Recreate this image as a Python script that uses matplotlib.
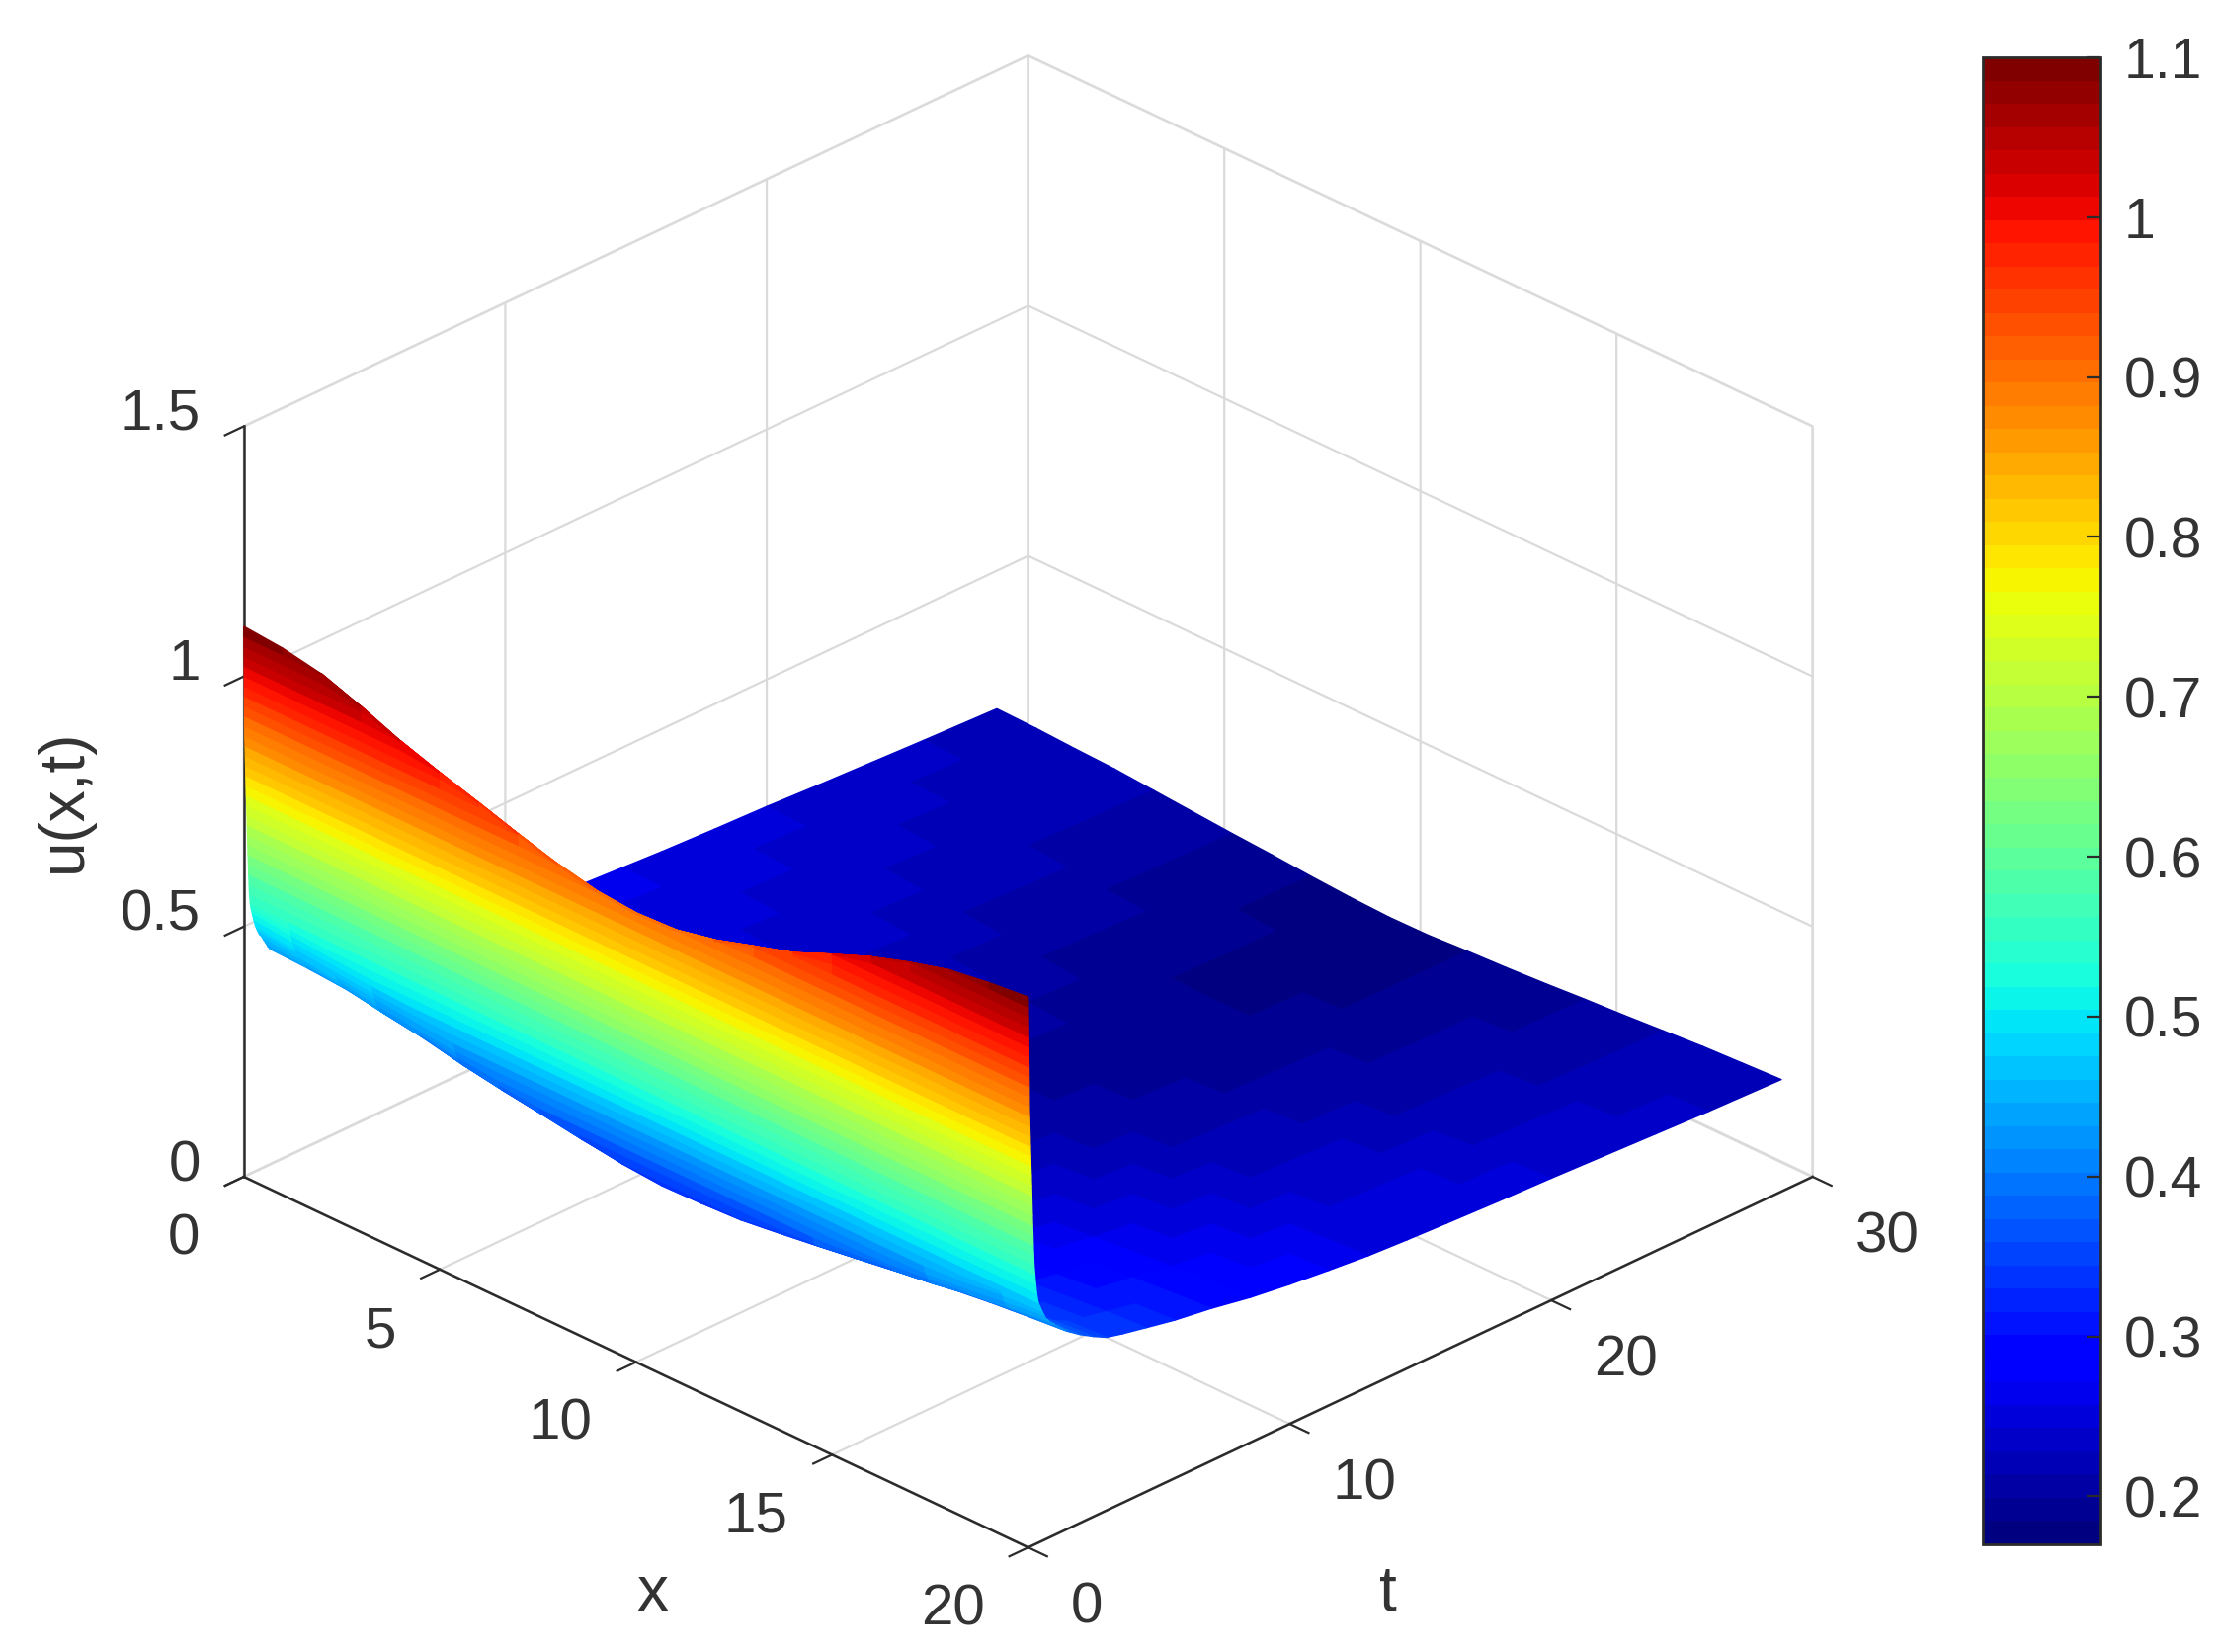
import numpy as np
import matplotlib
matplotlib.use('Agg')
import matplotlib.pyplot as plt
from matplotlib.colors import Normalize
from matplotlib.cm import ScalarMappable

plt.rcParams['font.family'] = ['Liberation Sans', 'DejaVu Sans']

# values
x_nodes = list(range(0, 21))

# steep start at t~0, top of the wall
t_upper = [0, 0.004, 0.008, 0.012, 0.016, 0.02, 0.024, 0.028, 0.032, 0.036, 0.038]
u_upper = [
    [1.10, 1.093, 1.078, 1.05, 1.018, 0.992, 0.968, 0.943, 0.92, 0.903, 0.896, 0.90, 0.917, 0.942, 0.966, 1.0, 1.032, 1.058, 1.08, 1.092, 1.10],
    [1.08, 1.08, 1.078, 1.05, 1.018, 0.992, 0.968, 0.943, 0.92, 0.903, 0.896, 0.90, 0.917, 0.942, 0.966, 1.0, 1.032, 1.058, 1.08, 1.08, 1.08],
    [1.06, 1.06, 1.06, 1.05, 1.018, 0.992, 0.968, 0.943, 0.92, 0.903, 0.896, 0.90, 0.917, 0.942, 0.966, 1.0, 1.032, 1.058, 1.06, 1.06, 1.06],
    [1.04, 1.04, 1.04, 1.04, 1.018, 0.992, 0.968, 0.943, 0.92, 0.903, 0.896, 0.90, 0.917, 0.942, 0.966, 1.0, 1.032, 1.04, 1.04, 1.04, 1.04],
    [1.02, 1.02, 1.02, 1.02, 1.018, 0.992, 0.968, 0.943, 0.92, 0.903, 0.896, 0.90, 0.917, 0.942, 0.966, 1.0, 1.02, 1.02, 1.02, 1.02, 1.02],
    [1.0, 1.0, 1.0, 1.0, 1.0, 0.992, 0.968, 0.943, 0.92, 0.903, 0.896, 0.90, 0.917, 0.942, 0.966, 1.0, 1.0, 1.0, 1.0, 1.0, 1.0],
    [0.98, 0.98, 0.98, 0.98, 0.98, 0.98, 0.968, 0.943, 0.92, 0.903, 0.896, 0.90, 0.917, 0.942, 0.966, 0.98, 0.98, 0.98, 0.98, 0.98, 0.98],
    [0.96, 0.96, 0.96, 0.96, 0.96, 0.96, 0.96, 0.943, 0.92, 0.903, 0.896, 0.90, 0.917, 0.942, 0.96, 0.96, 0.96, 0.96, 0.96, 0.96, 0.96],
    [0.94, 0.94, 0.94, 0.94, 0.94, 0.94, 0.94, 0.94, 0.92, 0.903, 0.896, 0.90, 0.917, 0.94, 0.94, 0.94, 0.94, 0.94, 0.94, 0.94, 0.94],
    [0.92, 0.92, 0.92, 0.92, 0.92, 0.92, 0.92, 0.92, 0.92, 0.903, 0.896, 0.90, 0.917, 0.92, 0.92, 0.92, 0.92, 0.92, 0.92, 0.92, 0.92],
    [0.90, 0.90, 0.90, 0.90, 0.90, 0.90, 0.90, 0.90, 0.90, 0.90, 0.896, 0.90, 0.90, 0.90, 0.90, 0.90, 0.90, 0.90, 0.90, 0.90, 0.90],
]

# middle of the wall, same height across x
t_wall = [0.04, 0.05, 0.06, 0.07, 0.08, 0.09, 0.10, 0.115, 0.125, 0.135, 0.145,
          0.155, 0.165, 0.18, 0.19, 0.205, 0.22, 0.25]
u_wall = [0.88, 0.86, 0.84, 0.82, 0.80, 0.78, 0.76, 0.74, 0.72, 0.70, 0.68,
          0.66, 0.64, 0.62, 0.60, 0.58, 0.56, 0.54]

# foot of the wall and the slow decay afterwards
t_lower = [0.28, 0.32, 0.38, 0.45, 0.52, 0.6, 0.68, 0.76, 0.84, 0.92, 1, 1.5, 2, 2.5, 3, 3.6, 4.5,
           5.6, 7, 8.5, 10, 11.5, 13, 14.5, 16, 18, 20, 22, 24, 26, 28.8]
u_lower = [
    [0.53, 0.525, 0.52, 0.52, 0.52, 0.52, 0.52, 0.52, 0.52, 0.52, 0.52, 0.52, 0.52, 0.52, 0.52, 0.52, 0.52, 0.52, 0.52, 0.52, 0.52],
    [0.52, 0.512, 0.505, 0.50, 0.50, 0.50, 0.50, 0.50, 0.50, 0.50, 0.50, 0.50, 0.50, 0.50, 0.50, 0.50, 0.50, 0.50, 0.50, 0.50, 0.50],
    [0.505, 0.497, 0.49, 0.484, 0.48, 0.48, 0.48, 0.48, 0.48, 0.48, 0.48, 0.48, 0.48, 0.48, 0.48, 0.48, 0.48, 0.48, 0.48, 0.48, 0.48],
    [0.49, 0.482, 0.475, 0.468, 0.463, 0.46, 0.46, 0.46, 0.46, 0.46, 0.46, 0.46, 0.46, 0.46, 0.46, 0.46, 0.46, 0.46, 0.46, 0.465, 0.47],
    [0.48, 0.472, 0.463, 0.455, 0.447, 0.44, 0.44, 0.44, 0.44, 0.44, 0.44, 0.44, 0.44, 0.44, 0.44, 0.44, 0.44, 0.44, 0.445, 0.455, 0.46],
    [0.47, 0.462, 0.452, 0.44, 0.43, 0.422, 0.42, 0.42, 0.42, 0.42, 0.42, 0.42, 0.42, 0.42, 0.42, 0.42, 0.42, 0.422, 0.43, 0.44, 0.45],
    [0.464, 0.455, 0.445, 0.43, 0.42, 0.408, 0.40, 0.40, 0.40, 0.40, 0.40, 0.40, 0.40, 0.40, 0.40, 0.40, 0.402, 0.41, 0.42, 0.432, 0.44],
    [0.455, 0.447, 0.438, 0.423, 0.412, 0.398, 0.388, 0.38, 0.38, 0.38, 0.38, 0.38, 0.38, 0.38, 0.38, 0.385, 0.393, 0.402, 0.414, 0.425, 0.435],
    [0.447, 0.44, 0.432, 0.418, 0.406, 0.39, 0.378, 0.366, 0.36, 0.36, 0.36, 0.36, 0.36, 0.36, 0.364, 0.374, 0.386, 0.396, 0.41, 0.42, 0.43],
    [0.438, 0.434, 0.427, 0.414, 0.402, 0.385, 0.372, 0.361, 0.349, 0.34, 0.34, 0.34, 0.34, 0.35, 0.359, 0.37, 0.382, 0.393, 0.407, 0.416, 0.425],
    [0.431, 0.428, 0.422, 0.409, 0.398, 0.381, 0.368, 0.357, 0.345, 0.334, 0.328, 0.33, 0.334, 0.344, 0.355, 0.367, 0.379, 0.39, 0.405, 0.413, 0.422],
    [0.408, 0.403, 0.396, 0.386, 0.376, 0.365, 0.352, 0.341, 0.328, 0.318, 0.312, 0.314, 0.322, 0.33, 0.339, 0.349, 0.359, 0.37, 0.38, 0.388, 0.395],
    [0.39, 0.3855, 0.378, 0.369, 0.36, 0.35, 0.338, 0.327, 0.315, 0.305, 0.30, 0.302, 0.309, 0.317, 0.325, 0.334, 0.343, 0.353, 0.362, 0.37, 0.376],
    [0.376, 0.372, 0.365, 0.356, 0.348, 0.337, 0.326, 0.316, 0.305, 0.295, 0.29, 0.292, 0.298, 0.305, 0.313, 0.322, 0.33, 0.339, 0.347, 0.354, 0.36],
    [0.365, 0.361, 0.354, 0.345, 0.337, 0.327, 0.316, 0.306, 0.294, 0.285, 0.28, 0.282, 0.288, 0.295, 0.302, 0.31, 0.318, 0.326, 0.334, 0.341, 0.346],
    [0.354, 0.35, 0.343, 0.335, 0.327, 0.317, 0.306, 0.297, 0.286, 0.277, 0.272, 0.274, 0.28, 0.287, 0.294, 0.302, 0.31, 0.318, 0.326, 0.333, 0.338],
    [0.34, 0.336, 0.33, 0.322, 0.314, 0.304, 0.294, 0.284, 0.274, 0.265, 0.26, 0.262, 0.268, 0.275, 0.282, 0.291, 0.299, 0.308, 0.316, 0.323, 0.328],
    [0.325, 0.321, 0.315, 0.307, 0.30, 0.29, 0.28, 0.271, 0.261, 0.253, 0.248, 0.25, 0.256, 0.263, 0.27, 0.279, 0.287, 0.296, 0.304, 0.311, 0.316],
    [0.31, 0.306, 0.30, 0.293, 0.285, 0.276, 0.267, 0.258, 0.248, 0.24, 0.235, 0.237, 0.243, 0.25, 0.258, 0.267, 0.275, 0.284, 0.292, 0.299, 0.305],
    [0.297, 0.293, 0.288, 0.28, 0.273, 0.264, 0.255, 0.246, 0.236, 0.228, 0.224, 0.226, 0.232, 0.239, 0.246, 0.254, 0.262, 0.27, 0.278, 0.285, 0.29],
    [0.285, 0.282, 0.276, 0.269, 0.262, 0.2535, 0.244, 0.236, 0.227, 0.219, 0.215, 0.217, 0.223, 0.229, 0.236, 0.244, 0.2515, 0.26, 0.267, 0.274, 0.279],
    [0.274, 0.271, 0.265, 0.259, 0.252, 0.244, 0.236, 0.228, 0.219, 0.212, 0.208, 0.21, 0.215, 0.222, 0.228, 0.236, 0.243, 0.251, 0.259, 0.265, 0.27],
    [0.265, 0.262, 0.257, 0.251, 0.245, 0.237, 0.229, 0.222, 0.2135, 0.207, 0.203, 0.205, 0.21, 0.216, 0.222, 0.23, 0.237, 0.244, 0.251, 0.257, 0.262],
    [0.26, 0.257, 0.252, 0.246, 0.24, 0.233, 0.225, 0.217, 0.209, 0.203, 0.199, 0.201, 0.206, 0.212, 0.218, 0.225, 0.232, 0.24, 0.247, 0.252, 0.257],
    [0.255, 0.252, 0.247, 0.241, 0.235, 0.228, 0.22, 0.213, 0.205, 0.199, 0.195, 0.197, 0.202, 0.208, 0.214, 0.221, 0.228, 0.236, 0.243, 0.248, 0.253],
    [0.25, 0.247, 0.242, 0.236, 0.23, 0.223, 0.215, 0.208, 0.20, 0.194, 0.19, 0.192, 0.197, 0.203, 0.209, 0.216, 0.223, 0.231, 0.238, 0.243, 0.248],
    [0.246, 0.243, 0.238, 0.232, 0.226, 0.219, 0.211, 0.204, 0.196, 0.19, 0.186, 0.188, 0.193, 0.199, 0.205, 0.212, 0.219, 0.227, 0.234, 0.239, 0.244],
    [0.24, 0.237, 0.233, 0.227, 0.221, 0.214, 0.207, 0.20, 0.193, 0.186, 0.183, 0.185, 0.19, 0.195, 0.201, 0.208, 0.215, 0.222, 0.229, 0.235, 0.239],
    [0.235, 0.232, 0.228, 0.222, 0.217, 0.21, 0.203, 0.1965, 0.189, 0.183, 0.18, 0.182, 0.186, 0.192, 0.198, 0.204, 0.211, 0.218, 0.224, 0.23, 0.234],
    [0.23, 0.227, 0.223, 0.218, 0.213, 0.207, 0.20, 0.194, 0.188, 0.182, 0.179, 0.18, 0.185, 0.19, 0.196, 0.202, 0.208, 0.214, 0.22, 0.225, 0.229],
    [0.224, 0.222, 0.218, 0.215, 0.209, 0.203, 0.197, 0.192, 0.186, 0.181, 0.178, 0.179, 0.184, 0.188, 0.193, 0.199, 0.204, 0.21, 0.216, 0.22, 0.224],
]

x_ticks = [0, 5, 10, 15, 20]
t_ticks = [0, 10, 20, 30]
u_ticks = [0, 0.5, 1, 1.5]
u_tick_labels = ['0', '0.5', '1', '1.5']
cbar_ticks = [0.2, 0.3, 0.4, 0.5, 0.6, 0.7, 0.8, 0.9, 1, 1.1]
cbar_labels = ['0.2', '0.3', '0.4', '0.5', '0.6', '0.7', '0.8', '0.9', '1', '1.1']
u_min = 0.17
u_max = 1.1

TEXT = '#333333'
GRID = '#dadada'
AXIS = '#2b2b2b'
W, H = 2248, 1672

# stack the three parts of the table into one grid
t_nodes = np.concatenate([t_upper, t_wall, t_lower])
u_grid = np.vstack([
    np.array(u_upper),
    np.repeat(np.array(u_wall)[:, None], len(x_nodes), axis=1),
    np.array(u_lower),
])
X, T = np.meshgrid(x_nodes, t_nodes)

cmap = plt.get_cmap('jet', 64)
norm = Normalize(u_min, u_max)

fig = plt.figure(figsize=(11.24, 8.36), dpi=200)
ax = fig.add_axes([0.0029, 0.0013, 0.9, 1.0], projection='3d')
ax.set_proj_type('ortho')
ax.view_init(elev=28.2, azim=-45)
ax.set_box_aspect((783, 783, 601), zoom=1.049)

surf = ax.plot_surface(X, T, u_grid, cmap=cmap, norm=norm, rstride=1, cstride=1,
                       shade=False, linewidth=0.5, antialiased=True)
surf.set_edgecolor('face')

ax.set_xlim(0, 20)
ax.set_ylim(0, 30)
ax.set_zlim(0, 1.5)
ax.set_xticks(x_ticks)
ax.set_yticks(t_ticks)
ax.set_zticks(u_ticks)
ax.set_zticklabels([])

# z axis on the left like the original
ax.zaxis.set_ticks_position('lower')
ax.zaxis.set_label_position('lower')
ax.zaxis._axinfo['juggled'] = (1, 2, 0)

for axis in [ax.xaxis, ax.yaxis, ax.zaxis]:
    axis.pane.set_facecolor('white')
    axis.pane.set_edgecolor(GRID)
    axis.line.set_color(AXIS)
    axis.line.set_linewidth(0.9)
    axis._axinfo['grid'].update(color=GRID, linewidth=0.8)
    axis._axinfo['tick'].update(inward_factor=0.3, outward_factor=0.0)

ax.tick_params(axis='x', labelsize=21, labelcolor=TEXT, color=AXIS, width=0.8, pad=9.5)
ax.tick_params(axis='y', labelsize=21, labelcolor=TEXT, color=AXIS, width=0.8, pad=9)
ax.tick_params(axis='z', color=AXIS, width=0.8)

for lab in ax.get_xticklabels():
    lab.set_ha('right')
    lab.set_va('center')
for lab in ax.get_yticklabels():
    lab.set_ha('left')
    lab.set_va('center')

# z labels and axis names go on the figure, in pixels of the target image
for val, lab in zip(u_ticks, u_tick_labels):
    fig.text(203 / W, 1 - (1180 - 506.7 * val) / H, lab, fontsize=21, color=TEXT,
             ha='right', va='center')
fig.text(660 / W, 1 - 1613 / H, 'x', fontsize=23, color=TEXT, ha='center', va='center')
fig.text(1405 / W, 1 - 1613 / H, 't', fontsize=23, color=TEXT, ha='center', va='center')
fig.text(65 / W, 1 - 810 / H, 'u(x,t)', fontsize=23, color=TEXT, ha='center', va='center',
         rotation=90)

# colorbar with ticks on the inside
cax = fig.add_axes([2007 / W, 1 - 1563 / H, 119 / W, 1505 / H])
sm = ScalarMappable(norm=norm, cmap=cmap)
cbar = fig.colorbar(sm, cax=cax)
cbar.set_ticks(cbar_ticks)
cbar.set_ticklabels(cbar_labels)
cbar.ax.tick_params(direction='in', length=5, width=0.8, color=AXIS, labelsize=20.5,
                    labelcolor=TEXT, pad=8.5)
cbar.outline.set_edgecolor(AXIS)
cbar.outline.set_linewidth(1.0)

fig.savefig('out.png', dpi=200)
